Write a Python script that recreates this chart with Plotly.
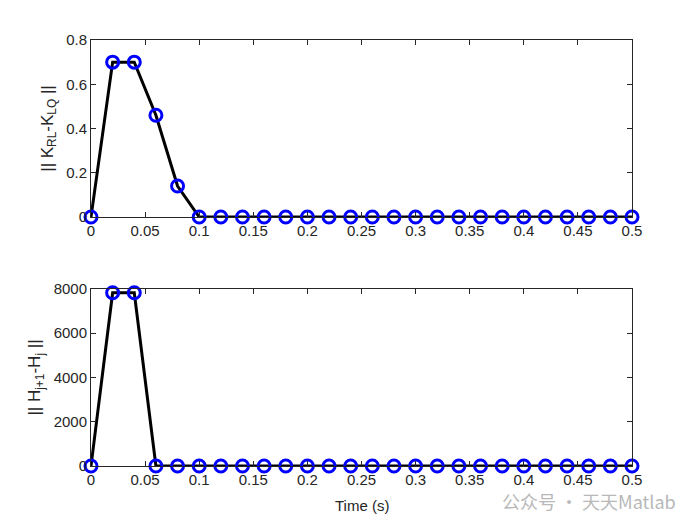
import plotly.graph_objects as go
from plotly.subplots import make_subplots

t = [round(0.02 * i, 2) for i in range(26)]
k_diff = [0, 0.70, 0.70, 0.46, 0.14] + [0] * 21
h_diff = [0, 7830, 7830] + [0] * 23

x_ticks = [0, 0.05, 0.1, 0.15, 0.2, 0.25, 0.3, 0.35, 0.4, 0.45, 0.5]
x_tick_text = ["0", "0.05", "0.1", "0.15", "0.2", "0.25", "0.3", "0.35", "0.4", "0.45", "0.5"]
y1_ticks = [0, 0.2, 0.4, 0.6, 0.8]
y1_text = ["0", "0.2", "0.4", "0.6", "0.8"]
y2_ticks = [0, 2000, 4000, 6000, 8000]
y2_text = ["0", "2000", "4000", "6000", "8000"]

fig = make_subplots(rows=2, cols=1, vertical_spacing=0.169)

line_style = dict(color="black", width=3)
marker_style = dict(symbol="circle-open", size=12, color="#0000ff", line=dict(width=3, color="#0000ff"))

fig.add_trace(go.Scatter(x=t, y=k_diff, mode="lines+markers", line=line_style,
                         marker=marker_style, cliponaxis=False, showlegend=False), row=1, col=1)
fig.add_trace(go.Scatter(x=t, y=h_diff, mode="lines+markers", line=line_style,
                         marker=marker_style, cliponaxis=False, showlegend=False), row=2, col=1)

FONT = "Liberation Sans, Arial"
axis_common = dict(showgrid=False, zeroline=False, showline=True, linecolor="#262626",
                   linewidth=1, mirror="ticks", ticks="inside", ticklen=5, tickcolor="#262626",
                   tickfont=dict(family=FONT, size=15, color="#262626"))

fig.update_xaxes(range=[0, 0.5], tickvals=x_ticks, ticktext=x_tick_text, **axis_common)
fig.update_yaxes(**axis_common)
fig.update_yaxes(range=[0, 0.8], tickvals=y1_ticks, ticktext=y1_text, row=1, col=1,
                 title=dict(text="|| K<sub>RL</sub>-K<sub>LQ</sub> ||", standoff=8,
                            font=dict(family=FONT, size=17, color="#262626")))
fig.update_yaxes(range=[0, 8000], tickvals=y2_ticks, ticktext=y2_text, row=2, col=1,
                 title=dict(text="|| H<sub>j+1</sub>-H<sub>j</sub> ||", standoff=8,
                            font=dict(family=FONT, size=17, color="#262626")))

fig.update_layout(
    width=684, height=509,
    margin=dict(l=83, r=60, t=32, b=51),
    paper_bgcolor="white", plot_bgcolor="white",
    font=dict(family=FONT, color="#262626"),
)

fig.add_annotation(text="Time (s)", xref="paper", yref="paper",
                   x=0.5, y=-0.092, xanchor="center", yanchor="middle", showarrow=False,
                   font=dict(family=FONT, size=15, color="#262626"))

fig.add_annotation(text="公众号 · 天天Matlab", xref="paper", yref="paper",
                   x=1.085, y=-0.082, xanchor="right", yanchor="middle", showarrow=False,
                   font=dict(family="Noto Sans CJK SC", size=18, color="#b8b8b8"))

fig.write_html("out.html")
